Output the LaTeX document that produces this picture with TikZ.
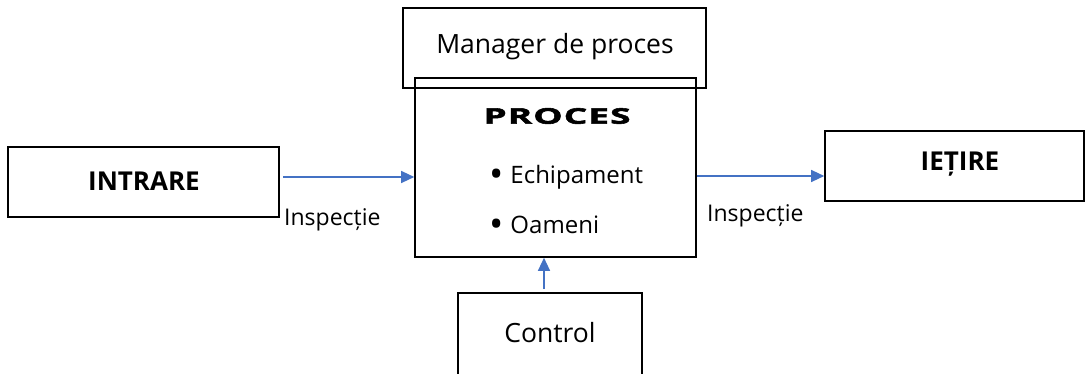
\documentclass[tikz,border=0pt]{standalone}
\usepackage{fontspec}
\setmainfont{Open Sans}
\usetikzlibrary{arrows.meta}
\definecolor{arrowblue}{RGB}{68,114,196}
\tikzset{
  boxstyle/.style={draw=black, line width=1.6pt, inner sep=0pt},
  flowarrow/.style={draw=arrowblue, line width=1.2pt, -{Triangle[length=13pt,width=12pt]}},
  lbl/.style={font=\fontsize{23}{27}\selectfont, inner sep=0pt},
  biglbl/.style={font=\fontsize{26.5}{30}\selectfont, inner sep=0pt},
  itemlbl/.style={font=\fontsize{24}{28}\selectfont, inner sep=0pt, anchor=base west},
  boldlbl/.style={font=\fontsize{26}{30}\selectfont\bfseries, inner sep=0pt}
}
\newcommand{\bigbul}{{\fontsize{38}{38}\selectfont\raisebox{-5pt}{•}}}
\begin{document}
\begin{tikzpicture}[x=1pt,y=-1pt]
\useasboundingbox (0,0) rectangle (1086,374);
\clip (0,0) rectangle (1086,374);
% boxes
\node[boxstyle, minimum width=271pt, minimum height=70pt] (intrare) at (143.5,182) {};
\node[boldlbl] (intraretxt) at (144,181) {INTRARE};
\node[boxstyle, minimum width=303pt, minimum height=80pt] (manager) at (554.5,48) {};
\node[biglbl] (managertxt) at (555,47) {Manager de proces};
\node[boxstyle, minimum width=281pt, minimum height=179pt] (proces) at (555.5,167.5) {};
\node[inner sep=0pt, font=\fontsize{21.5}{25}\selectfont\bfseries\addfontfeatures{FakeStretch=1.72,FakeBold=2.5,LetterSpace=5}] (procestxt) at (557,116) {PROCES};
\node[itemlbl] (echip) at (489,183) {\bigbul\hspace{7pt}Echipament};
\node[itemlbl] (oameni) at (489,233) {\bigbul\hspace{7pt}Oameni};
\node[boxstyle, minimum width=259pt, minimum height=70pt] (iesire) at (954.5,166) {};
\node[boldlbl] (iesiretxt) at (960,164) {IEȚIRE};
\node[boxstyle, minimum width=184pt, minimum height=120pt] (control) at (550,353) {};
\node[biglbl] (controltxt) at (550,333) {Control};
% labels
\node[lbl, anchor=base west] (insp1) at (284,225) {Inspecție};
\node[lbl, anchor=base west] (insp2) at (707,222) {Inspecție};
% arrows
\coordinate (a1s) at (283,177);
\draw[flowarrow] (a1s) -- (proces.west |- a1s);
\coordinate (a2s) at (proces.east |- 0,176);
\draw[flowarrow] (a2s) -- (iesire.west |- a2s);
\coordinate (a3s) at (544,289);
\draw[flowarrow] (a3s) -- (a3s |- proces.south);
\end{tikzpicture}
\end{document}
